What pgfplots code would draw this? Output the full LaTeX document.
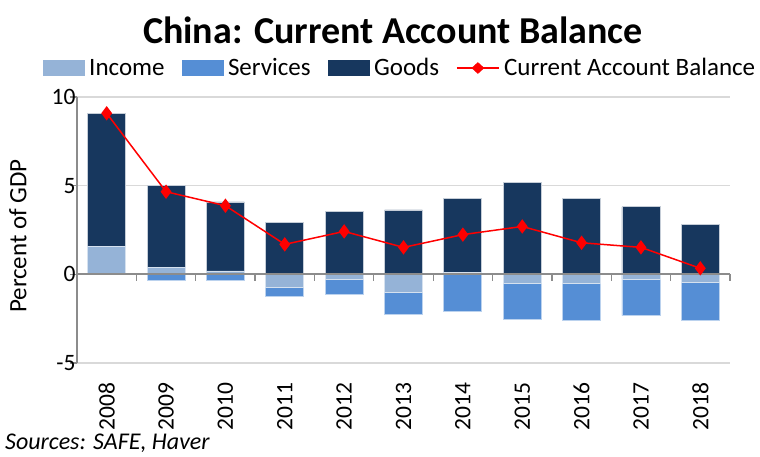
\documentclass[border=0pt]{standalone}
\usepackage{pgfplots}
\pgfplotsset{compat=1.18}
\usepackage{pgfplotstable}
\usepackage{fontspec}
\setmainfont{Carlito}
\definecolor{incC}{HTML}{95B3D7}
\definecolor{servC}{HTML}{558ED5}
\definecolor{goodsC}{HTML}{17375E}
\definecolor{axgray}{HTML}{8C8C8C}
\definecolor{gridgray}{HTML}{D9D9D9}
% x, goods top (income>0 + goods), income>0, services bottom (income<0 + services), income<0, CA
\pgfplotstableread{
x goodsTop incPos servBot incNeg ca
0 9.08 1.56  0.00  0.00 9.08
1 5.00 0.37 -0.34  0.00 4.66
2 4.08 0.19 -0.34  0.00 3.87
3 2.91 0.00 -1.26 -0.72 1.69
4 3.53 0.00 -1.15 -0.27 2.42
5 3.63 0.00 -2.26 -1.00 1.52
6 4.29 0.13 -2.07  0.00 2.24
7 5.19 0.00 -2.52 -0.53 2.70
8 4.29 0.00 -2.60 -0.53 1.78
9 3.81 0.00 -2.33 -0.27 1.52
10 2.82 0.00 -2.60 -0.45 0.34
}\data
\begin{document}
\begin{tikzpicture}
\begin{axis}[
  scale only axis, width=653pt, height=266pt,
  xmin=-0.5, xmax=10.5, ymin=-5, ymax=10,
  ybar, bar width=0.64,
  axis y line*=left, axis x line*=bottom,
  x axis line style={draw=none},
  y axis line style={draw=axgray, line width=1.3pt},
  ytick={-5,0,5,10},
  ymajorgrids, grid style={gridgray, line width=1.3pt},
  tick align=outside, major tick length=7pt,
  ytick style={axgray, line width=1.3pt},
  xtick={0,...,10}, xtick style={draw=none},
  xticklabels={2008,2009,2010,2011,2012,2013,2014,2015,2016,2017,2018},
  xticklabel shift=9pt,
  xticklabel style={rotate=90, anchor=east, font=\fontsize{23.5}{27}\selectfont},
  yticklabel style={font=\fontsize{23.5}{27}\selectfont, xshift=9pt},
  /pgf/number format/assume math mode=true,
  ylabel={Percent of GDP},
  ylabel style={at={(axis description cs:-0.0904,0.4774)}, anchor=center, font=\fontsize{25}{28}\selectfont},
  legend columns=4,
  legend style={draw=none, fill=none, at={(axis description cs:0.4931,1.109)}, anchor=center,
    font=\fontsize{25}{28}\selectfont, nodes={inner sep=0pt},
    /tikz/every odd column/.append style={column sep=4.5pt},
    /tikz/every even column/.append style={column sep=17pt}},
  legend cell align=left,
  clip=false,
]
\addlegendimage{legend image code/.code={\fill[incC] (0pt,-7.5pt) rectangle (41.5pt,7.5pt);}}
\addlegendentry{Income}
\addlegendimage{legend image code/.code={\fill[servC] (0pt,-7.5pt) rectangle (41.5pt,7.5pt);}}
\addlegendentry{Services}
\addlegendimage{legend image code/.code={\fill[goodsC] (0pt,-7.5pt) rectangle (41.5pt,7.5pt);}}
\addlegendentry{Goods}
\addlegendimage{legend image code/.code={\draw[red, line width=1.5pt] (0pt,0pt) -- (42pt,0pt); \fill[red] (21pt,5.5pt) -- (27pt,0pt) -- (21pt,-5.5pt) -- (15pt,0pt) -- cycle;}}
\addlegendentry{Current Account Balance}
\addplot[bar shift=0pt, fill=goodsC, draw=white!75!goodsC, line width=0.8pt, forget plot] table[x=x, y=goodsTop] {\data};
\addplot[bar shift=0pt, fill=incC, draw=white!60!incC, line width=0.8pt, forget plot] table[x=x, y=incPos] {\data};
\addplot[bar shift=0pt, fill=servC, draw=white!60!servC, line width=0.8pt, forget plot] table[x=x, y=servBot] {\data};
\addplot[bar shift=0pt, fill=incC, draw=white!60!incC, line width=0.8pt, forget plot] table[x=x, y=incNeg] {\data};
\draw[axgray, line width=1.8pt] (axis cs:-0.5,0) -- (axis cs:10.5,0);
\pgfplotsinvokeforeach{0.5,1.5,...,10.5}{\draw[axgray, line width=1.3pt] (axis cs:#1,0) -- ([yshift=-7pt]axis cs:#1,0);}
\addplot[sharp plot, red, line width=1.5pt, mark=diamond*, mark size=6pt, mark options={fill=red, draw=red}, forget plot] table[x=x, y=ca] {\data};
\end{axis}
\node[font=\bfseries\fontsize{38}{44}\selectfont] at (316pt,333pt) {China: Current Account Balance};
\node[anchor=base west, font=\itshape\fontsize{24}{27}\selectfont, inner sep=0pt] at (-72pt,-86pt) {Sources: SAFE, Haver};
\pgfresetboundingbox
\path (-77pt,-93pt) rectangle (683pt,363pt);
\end{tikzpicture}
\end{document}
